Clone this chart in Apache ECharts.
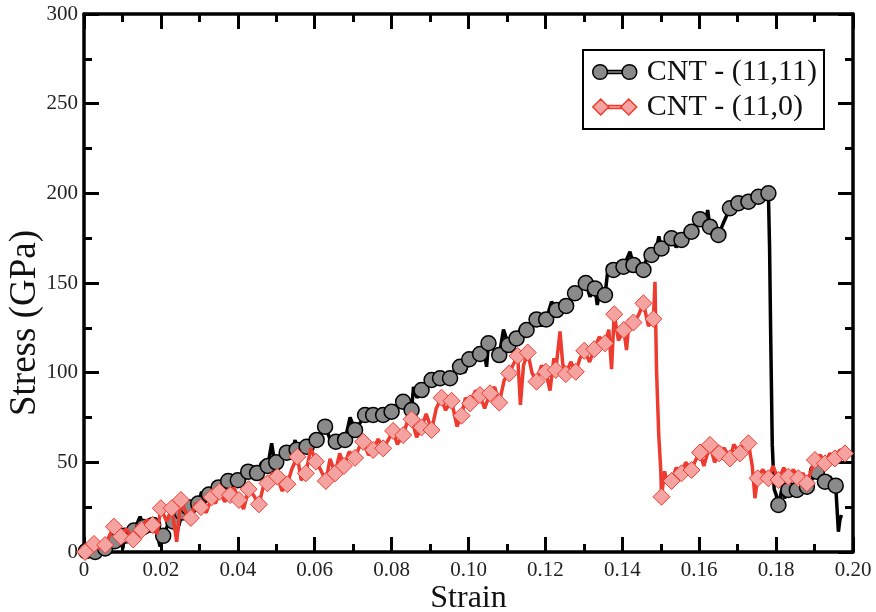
<!DOCTYPE html>
<html>
<head>
<meta charset="utf-8">
<script src="https://cdn.jsdelivr.net/npm/echarts@6/dist/echarts.min.js"></script>
<style>html,body{margin:0;padding:0;background:#fff;}#c{width:876px;height:612px;}</style>
</head>
<body>
<div id="c"></div>
<script>
// ---- Data ----
const seriesNames = ['CNT - (11,11)', 'CNT - (11,0)'];
const xTicks = [0, 0.02, 0.04, 0.06, 0.08, 0.10, 0.12, 0.14, 0.16, 0.18, 0.20];
const yTicks = [0, 50, 100, 150, 200, 250, 300];

// CNT (11,11): noisy trace
const armStrain = [0.0000,0.0005,0.0015,0.0029,0.0040,0.0055,0.0068,0.0080,0.0090,0.0101,0.0105,0.0118,0.0130,0.0146,0.0155,0.0168,0.0180,0.0190,0.0198,0.0206,0.0220,0.0232,0.0243,0.0255,0.0262,0.0271,0.0285,0.0297,0.0306,0.0315,0.0325,0.0338,0.0350,0.0362,0.0375,0.0388,0.0400,0.0413,0.0427,0.0438,0.0450,0.0462,0.0478,0.0488,0.0495,0.0500,0.0512,0.0527,0.0540,0.0549,0.0553,0.0566,0.0579,0.0590,0.0605,0.0615,0.0627,0.0640,0.0655,0.0668,0.0679,0.0692,0.0705,0.0718,0.0731,0.0740,0.0752,0.0765,0.0778,0.0790,0.0800,0.0815,0.0830,0.0842,0.0852,0.0857,0.0866,0.0878,0.0890,0.0904,0.0915,0.0926,0.0940,0.0952,0.0965,0.0978,0.0990,0.1002,0.1015,0.1030,0.1040,0.1047,0.1052,0.1066,0.1080,0.1091,0.1104,0.1115,0.1125,0.1138,0.1151,0.1165,0.1177,0.1190,0.1202,0.1216,0.1229,0.1240,0.1254,0.1265,0.1277,0.1290,0.1305,0.1316,0.1329,0.1335,0.1342,0.1355,0.1364,0.1377,0.1390,0.1403,0.1420,0.1429,0.1440,0.1455,0.1466,0.1476,0.1488,0.1495,0.1502,0.1515,0.1528,0.1540,0.1554,0.1567,0.1580,0.1590,0.1602,0.1615,0.1622,0.1628,0.1640,0.1650,0.1662,0.1680,0.1690,0.1702,0.1715,0.1728,0.1740,0.1754,0.1768,0.1780,0.1783,0.1786,0.1790,0.1795,0.1800,0.1806,0.1815,0.1822,0.1832,0.1843,0.1854,0.1866,0.1880,0.1892,0.1906,0.1915,0.1927,0.1940,0.1955,0.1962,0.1966,0.1970];
const armStress = [0,0.5,3,0,4,2,7,6,10,2,9,14,12,19.7,14,18,15,10,3,9,16,17,12,22,19,25,22,27,33.6,28,32,30,36,33,39.6,37,40,38,44.8,42,44,50,48,60.6,51,50,53,55.4,52,62.5,57,55,58.7,61,62.5,65,69.9,63,61.5,65,62.5,75,68,72,76.4,73,76.4,74,76.4,80,78.2,82,83.8,80,79.2,92,86,90.3,92,95.9,94,96.9,99,96.9,101,103.3,100,107.5,109,110.4,113,103.3,116.4,113,109.8,124,115.4,117,119.1,126,123.8,125,129.7,126,129.7,139.6,134.9,133,137.2,140,144.3,148,150,142.4,147,137.7,146,143.3,160,157.3,155,159.1,167.5,160,163,157.3,166,165.6,168,176,169.3,172,174.9,170,174,180,178.6,183,185.5,182,190.7,181.4,184,176.8,183,191.7,190,194.5,193,195.3,196,198.1,197,200,170,120,60,35,32,26.2,35,30,34.6,38,34.6,38,36.4,40,44.8,42,39.2,42,37,11.3,18,20.6];
// CNT (11,11): symbol positions
const armMarkStrain = [0.0005,0.0029,0.0055,0.0080,0.0105,0.0130,0.0155,0.0180,0.0206,0.0232,0.0255,0.0271,0.0297,0.0325,0.0350,0.0375,0.0400,0.0427,0.0450,0.0478,0.0500,0.0527,0.0553,0.0579,0.0605,0.0627,0.0655,0.0679,0.0705,0.0731,0.0752,0.0778,0.0800,0.0830,0.0852,0.0878,0.0904,0.0926,0.0952,0.0978,0.1002,0.1030,0.1052,0.1080,0.1104,0.1125,0.1151,0.1177,0.1202,0.1229,0.1254,0.1277,0.1305,0.1329,0.1355,0.1377,0.1403,0.1429,0.1455,0.1476,0.1502,0.1528,0.1554,0.1580,0.1602,0.1628,0.1650,0.1680,0.1702,0.1728,0.1754,0.1780,0.1806,0.1832,0.1854,0.1880,0.1906,0.1927,0.1955];
const armMarkStress = [0.5,0,2,6,9,12,14,15,9,17,22,25,27,32,36,39.6,40,44.8,44,48,50,55.4,57,58.7,62.5,69.9,61.5,62.5,68,76.4,76.4,76.4,78.2,83.8,79.2,90.3,95.9,96.9,96.9,103.3,107.5,110.4,116.4,109.8,115.4,119.1,123.8,129.7,129.7,134.9,137.2,144.3,150,147,143.3,157.3,159.1,160,157.3,165.6,169.3,174.9,174,178.6,185.5,181.4,176.8,191.7,194.5,195.3,198.1,200,26.2,34.6,34.6,36.4,44.8,39.2,37];

// CNT (11,0): noisy trace
const zigStrain = [0.0000,0.0003,0.0015,0.0026,0.0040,0.0055,0.0066,0.0078,0.0088,0.0096,0.0110,0.0128,0.0140,0.0150,0.0163,0.0178,0.0190,0.0200,0.0215,0.0228,0.0241,0.0252,0.0265,0.0278,0.0290,0.0304,0.0318,0.0332,0.0342,0.0352,0.0366,0.0380,0.0390,0.0403,0.0415,0.0428,0.0440,0.0455,0.0466,0.0477,0.0490,0.0503,0.0515,0.0529,0.0540,0.0555,0.0565,0.0577,0.0590,0.0603,0.0615,0.0629,0.0640,0.0653,0.0665,0.0676,0.0690,0.0705,0.0715,0.0726,0.0740,0.0752,0.0765,0.0778,0.0790,0.0804,0.0815,0.0830,0.0840,0.0852,0.0865,0.0878,0.0890,0.0904,0.0916,0.0930,0.0940,0.0956,0.0970,0.0982,0.0992,0.1004,0.1018,0.1030,0.1042,0.1056,0.1068,0.1080,0.1093,0.1106,0.1115,0.1128,0.1135,0.1143,0.1154,0.1165,0.1177,0.1190,0.1201,0.1212,0.1222,0.1227,0.1238,0.1245,0.1253,0.1266,0.1279,0.1290,0.1301,0.1315,0.1327,0.1340,0.1355,0.1365,0.1372,0.1379,0.1390,0.1404,0.1411,0.1418,0.1429,0.1442,0.1455,0.1468,0.1481,0.1485,0.1489,0.1495,0.1500,0.1502,0.1510,0.1518,0.1528,0.1540,0.1554,0.1565,0.1580,0.1590,0.1602,0.1612,0.1628,0.1640,0.1652,0.1665,0.1680,0.1690,0.1706,0.1716,0.1728,0.1738,0.1745,0.1752,0.1765,0.1780,0.1792,0.1806,0.1820,0.1832,0.1845,0.1858,0.1870,0.1880,0.1892,0.1901,0.1915,0.1927,0.1940,0.1953,0.1966,0.1979];
const zigStress = [0,0,5,4.5,2,3.9,9,14.1,6,8.5,13,7,15,12.3,18,15.1,10,24.4,17,24.4,5.7,29,22,19,27,25,22,30.5,27,33.6,28,31.8,36,29,24,35,32,26.6,36,38.3,44,42,34,37.8,46,53.1,40,43.9,58,50.4,46,39.6,52,43.9,55,48,56,52.5,58,61.5,54,56.9,63,57.8,62,67.5,60,65.2,72,74,64,69.5,77,68,80,86,79,84.3,70,76,86,82.9,90,87.5,80,88.5,92,83.3,96,99.6,104,109.3,82,104,111.2,100,95,104,100.5,90,108,101.5,123,105,99.2,106,100.5,108,112.2,106,113.1,120,116.4,124,102,132.6,118,123.8,112.6,130,128,132,138.7,126,130,150.7,101.5,64.3,45.7,30.8,45,38,39.6,47,43.9,50,45.7,51,55.5,48,59.7,50,55,58,52.2,60,55,62,60.6,48,30,41.1,46,41.1,48,40.1,47,42,46,41.1,44,38.3,46,51.3,54,49.4,55,52.2,57,55];
// CNT (11,0): symbol positions
const zigMarkStrain = [0.0003,0.0026,0.0055,0.0078,0.0096,0.0128,0.0150,0.0178,0.0200,0.0228,0.0252,0.0278,0.0304,0.0332,0.0352,0.0380,0.0403,0.0428,0.0455,0.0477,0.0503,0.0529,0.0555,0.0577,0.0603,0.0629,0.0653,0.0676,0.0705,0.0726,0.0752,0.0778,0.0804,0.0830,0.0852,0.0878,0.0904,0.0930,0.0956,0.0982,0.1004,0.1030,0.1056,0.1080,0.1106,0.1128,0.1154,0.1177,0.1201,0.1227,0.1253,0.1279,0.1301,0.1327,0.1355,0.1379,0.1404,0.1429,0.1455,0.1481,0.1502,0.1528,0.1554,0.1580,0.1602,0.1628,0.1652,0.1680,0.1706,0.1728,0.1752,0.1780,0.1806,0.1832,0.1858,0.1880,0.1901,0.1927,0.1953,0.1979];
const zigMarkStress = [0,4.5,3.9,14.1,8.5,7,12.3,15.1,24.4,24.4,29,19,25,30.5,33.6,31.8,29,35,26.6,38.3,42,37.8,53.1,43.9,50.4,39.6,43.9,48,52.5,61.5,56.9,57.8,67.5,65.2,74,69.5,68,86,84.3,76,82.9,87.5,88.5,83.3,99.6,109.3,111.2,95,100.5,101.5,99.2,100.5,112.2,113.1,116.4,132.6,123.8,128,138.7,130,30.8,39.6,43.9,45.7,55.5,59.7,55,52.2,55,60.6,41.1,41.1,40.1,42,41.1,38.3,51.3,49.4,52.2,55];

// ---- Build chart ----
function pairs(xs, ys) { return xs.map((x, i) => [x, ys[i]]); }
const FONT = 'Liberation Serif';
const BLACK = '#000000', RED = '#ee3b30';
const circleIcon = 'path://M1,8a7,7 0 1,0 14,0a7,7 0 1,0 -14,0Z M29,8a7,7 0 1,0 14,0a7,7 0 1,0 -14,0Z M15,6.6H29V9.4H15Z';
const diamondIcon = 'path://M0,8L8,0L16,8L8,16Z M28,8L36,0L44,8L36,16Z M16,6.6H28V9.4H16Z';

const tickCommon = {
  axisLine: { show: true, onZero: false, lineStyle: { color: BLACK, width: 3.5 } },
  axisTick: { show: true, inside: true, length: 15, lineStyle: { color: BLACK, width: 3 } },
  minorTick: { show: true, splitNumber: 2, length: 8, lineStyle: { color: BLACK, width: 3 } },
  splitLine: { show: false }
};
const labelStyle = { fontFamily: FONT, fontSize: 21, color: '#222' };

const chart = echarts.init(document.getElementById('c'), null, { renderer: 'canvas' });
chart.setOption({
  animation: false,
  backgroundColor: '#fff',
  grid: { left: 84, right: 23, top: 14, bottom: 60, containLabel: false, outerBoundsMode: 'none' },
  legend: {
    orient: 'vertical', left: 583, top: 50,
    padding: [7, 7, 7, 9], itemGap: 5, itemWidth: 44, itemHeight: 16,
    borderColor: BLACK, borderWidth: 2, backgroundColor: '#fff',
    textStyle: { fontFamily: FONT, fontSize: 30, color: '#111', padding: [0, 0, 0, 5] },
    data: [
      { name: seriesNames[0], icon: circleIcon, itemStyle: { color: '#8a8a8a', borderColor: BLACK, borderWidth: 1.5 } },
      { name: seriesNames[1], icon: diamondIcon, itemStyle: { color: '#f5a3a0', borderColor: RED, borderWidth: 1.5 } }
    ]
  },
  xAxis: [
    Object.assign({
      type: 'value', min: xTicks[0], max: xTicks[xTicks.length - 1], interval: xTicks[1] - xTicks[0],
      position: 'bottom',
      name: 'Strain', nameLocation: 'middle', nameGap: 47, nameMoveOverlap: false,
      nameTextStyle: { fontFamily: FONT, fontSize: 32, color: '#111', verticalAlign: 'middle' },
      axisLabel: Object.assign({ margin: 8, formatter: v => (v === 0 ? '0' : v.toFixed(2)) }, labelStyle)
    }, tickCommon),
    Object.assign({
      type: 'value', min: xTicks[0], max: xTicks[xTicks.length - 1], interval: xTicks[1] - xTicks[0],
      position: 'top', axisLabel: { show: false }
    }, tickCommon)
  ],
  yAxis: [
    Object.assign({
      type: 'value', min: yTicks[0], max: yTicks[yTicks.length - 1], interval: yTicks[1] - yTicks[0],
      position: 'left',
      name: 'Stress (GPa)', nameLocation: 'middle', nameGap: 40, nameMoveOverlap: false,
      nameTextStyle: { fontFamily: FONT, fontSize: 37, color: '#111', padding: [0, 80, 0, 0] },
      axisLabel: Object.assign({ margin: 6 }, labelStyle)
    }, tickCommon),
    Object.assign({
      type: 'value', min: yTicks[0], max: yTicks[yTicks.length - 1], interval: yTicks[1] - yTicks[0],
      position: 'right', axisLabel: { show: false }
    }, tickCommon)
  ],
  series: [
    { name: seriesNames[0] + ' trace', type: 'line', data: pairs(armStrain, armStress), showSymbol: false, symbol: 'none',
      lineStyle: { color: BLACK, width: 3.5 }, z: 2 },
    { name: seriesNames[0], type: 'scatter', data: pairs(armMarkStrain, armMarkStress), symbol: 'circle', symbolSize: 15,
      itemStyle: { color: '#8a8a8a', borderColor: BLACK, borderWidth: 1.5, opacity: 1 }, z: 3 },
    { name: seriesNames[1] + ' trace', type: 'line', data: pairs(zigStrain, zigStress), showSymbol: false, symbol: 'none',
      lineStyle: { color: RED, width: 3.5 }, z: 4 },
    { name: seriesNames[1], type: 'scatter', data: pairs(zigMarkStrain, zigMarkStress), symbol: 'diamond', symbolSize: [17, 17],
      itemStyle: { color: '#f5a3a0', borderColor: RED, borderWidth: 1, opacity: 1 }, z: 5 }
  ]
});
</script>
</body>
</html>
